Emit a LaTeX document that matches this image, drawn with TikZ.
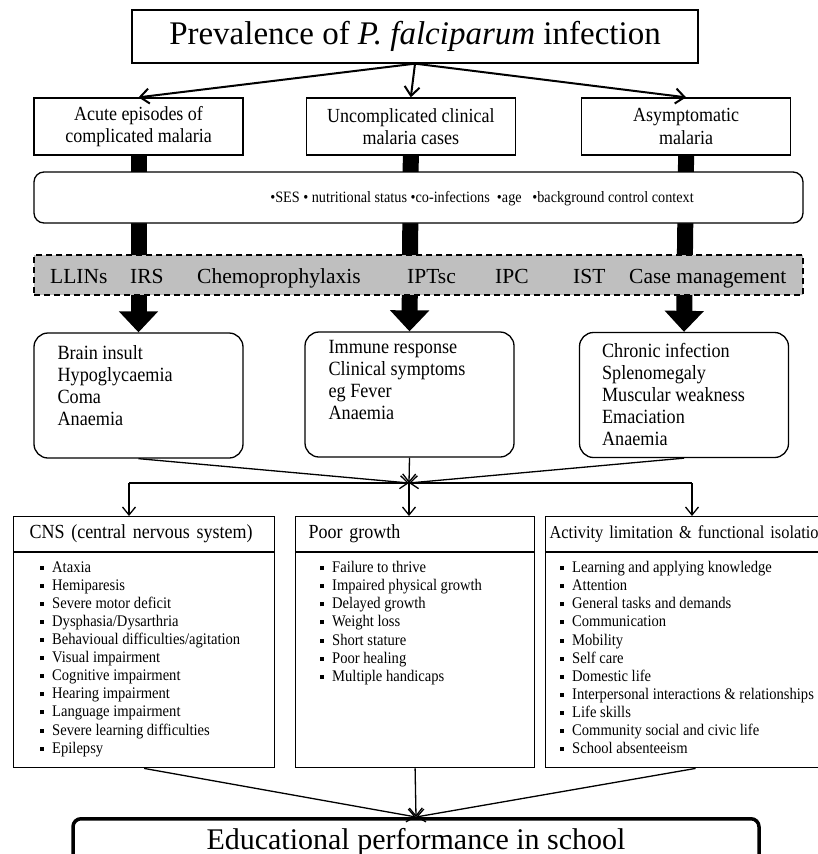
\documentclass[tikz,border=0pt]{standalone}
\usepackage{fontspec}
\setmainfont{Liberation Serif}
\newfontfamily\narrowserif[FakeStretch=0.9]{Liberation Serif}
\usetikzlibrary{positioning,arrows.meta}
\definecolor{BandGray}{RGB}{191,191,191}
\newcommand{\itm}{\makebox[12pt][l]{\rule[2.5pt]{4pt}{4pt}}}
\tikzset{
  topflow/.style={-{Straight Barb[length=9pt,width=15pt]},line width=2pt},
  thinflow/.style={-{Straight Barb[length=8pt,width=13pt]},line width=1.3pt},
  fatflow/.style={-{Triangle[length=21pt,width=38pt]},line width=16pt},
  titlebox/.style={draw,line width=1.3pt,minimum width=566pt,minimum height=53pt,
    font=\fontsize{33}{36}\selectfont},
  box/.style={draw,line width=1.3pt,minimum width=209pt,minimum height=57pt,
    align=center,font=\narrowserif\fontsize{20}{22.5}\selectfont},
  roundbox/.style={draw,line width=1.3pt,rounded corners=14pt,
    minimum width=209pt,minimum height=125pt},
  ctxbox/.style={draw,fill=white,line width=1.3pt,rounded corners=10pt,
    minimum width=769pt,minimum height=51pt},
  ctxtext/.style={inner sep=0pt,font=\narrowserif\fontsize{15.8}{17}\selectfont},
  bandbox/.style={draw,fill=BandGray,line width=1.3pt,dash pattern=on 6pt off 4pt,
    minimum width=769pt,minimum height=40pt},
  bandword/.style={anchor=base west,inner sep=0pt,font=\fontsize{21.5}{24}\selectfont},
  listtext/.style={anchor=north west,inner sep=0pt,align=left,
    font=\narrowserif\fontsize{20.2}{22}\selectfont},
  headbox/.style={draw,line width=1.2pt,minimum height=35pt,anchor=north west,
    align=left,font=\narrowserif\fontsize{20}{21}\selectfont},
  bodybox/.style={draw,line width=1.2pt,minimum height=215pt},
  itemlist/.style={anchor=north west,inner sep=0pt,align=left,
    font=\narrowserif\fontsize{16.2}{18.1}\selectfont},
  edubox/.style={draw,line width=3.5pt,rounded corners=8pt,minimum width=686pt,
    anchor=north,inner ysep=10pt,text depth=30pt,font=\fontsize{30}{32}\selectfont}
}
\begin{document}
\begin{tikzpicture}[x=1pt,y=-1pt]
\useasboundingbox (0,0) rectangle (818,854);
\clip (0,0) rectangle (818,854);

% prevalence and the three kinds of infection
\node[titlebox] (prev) at (415,36.5) {Prevalence of \textit{P. falciparum} infection};
\node[box] (acute) at (138.5,126.5) {Acute episodes of\\complicated malaria};
\node[box,right=62pt of acute] (uncomp) {Uncomplicated clinical\\malaria cases};
\node[box,right=65pt of uncomp] (asympt) {Asymptomatic\\malaria};
\draw[topflow] (prev.south) -- (acute.north);
\draw[topflow] (prev.south) -- (uncomp.north);
\draw[topflow] (prev.south) -- (asympt.north);

% consequences
\node[roundbox] (brain) at (138.5,395.5) {};
\node[roundbox] (immune) at (409.5,394.5) {};
\node[roundbox] (chronic) at (684,395) {};
\draw[fatflow] (acute.south) -- (brain.north);
\draw[fatflow] (uncomp.south) -- (immune.north);
\draw[fatflow] (asympt.south) -- (chronic.north);
\node[listtext,below right=13pt and 24pt of brain.north west] (brainList)
  {Brain insult\\Hypoglycaemia\\Coma\\Anaemia};
\node[listtext,below right=9pt and 24pt of immune.north west] (immuneList)
  {Immune response\\Clinical symptoms\\eg Fever\\Anaemia};
\node[listtext,below right=11pt and 23pt of chronic.north west] (chronicList)
  {Chronic infection\\Splenomegaly\\Muscular weakness\\Emaciation\\Anaemia};

% modifiers and interventions
\node[ctxbox] (context) at (418.5,197.5) {};
\node[ctxtext] (ctxText) at (482,199)
  {•SES • nutritional status •co-infections\ \ •age\ \ \ •background control context};
\node[bandbox] (band) at (418.5,275) {};
\node[bandword] (llins) at (50,283) {LLINs};
\node[bandword] (irs) at (130,283) {IRS};
\node[bandword] (chemo) at (197,283) {Chemoprophylaxis};
\node[bandword] (iptsc) at (407,283) {IPTsc};
\node[bandword] (ipc) at (495,283) {IPC};
\node[bandword] (ist) at (573,283) {IST};
\node[bandword] (casemgt) at (629,283) {Case management};

% sequelae
\node[headbox,text width=229pt,inner xsep=16pt] (cnsHead) at (13,516)
  {CNS (central nervous system)};
\node[bodybox,minimum width=261pt,below=0pt of cnsHead] (cnsBody) {};
\node[headbox,text width=213pt,inner xsep=13pt] (poorHead) at (295,516) {Poor growth};
\node[bodybox,minimum width=239pt,below=0pt of poorHead] (poorBody) {};
\node[headbox,text width=292pt,inner xsep=4pt,font=\narrowserif\fontsize{18.2}{20}\selectfont]
  (actHead) at (545,516) {Activity limitation \& functional isolation};
\node[bodybox,minimum width=300pt,below=0pt of actHead] (actBody) {};

\node[itemlist,below right=9pt and 27pt of cnsBody.north west] (cnsList)
  {\itm Ataxia\\\itm Hemiparesis\\\itm Severe motor deficit\\\itm Dysphasia/Dysarthria\\
   \itm Behavioual difficulties/agitation\\\itm Visual impairment\\\itm Cognitive impairment\\
   \itm Hearing impairment\\\itm Language impairment\\\itm Severe learning difficulties\\
   \itm Epilepsy};
\node[itemlist,below right=9pt and 25pt of poorBody.north west] (poorList)
  {\itm Failure to thrive\\\itm Impaired physical growth\\\itm Delayed growth\\
   \itm Weight loss\\\itm Short stature\\\itm Poor healing\\\itm Multiple handicaps};
\node[itemlist,below right=9pt and 15pt of actBody.north west] (actList)
  {\itm Learning and applying knowledge\\\itm Attention\\\itm General tasks and demands\\
   \itm Communication\\\itm Mobility\\\itm Self care\\\itm Domestic life\\
   \itm Interpersonal interactions \& relationships\\\itm Life skills\\
   \itm Community social and civic life\\\itm School absenteeism};

\coordinate (split) at (409,483);
\coordinate (splitL) at (129,483);
\coordinate (splitR) at (692,483);
\draw[thinflow] (brain.south) -- (split);
\draw[thinflow] (immune.south) -- (split);
\draw[thinflow] (chronic.south) -- (split);
\draw[line width=1.3pt] (splitL) -- (splitR);
\draw[thinflow] (splitL) -- (splitL |- cnsHead.north);
\draw[thinflow] (split) -- (split |- poorHead.north);
\draw[thinflow] (splitR) -- (splitR |- actHead.north);

% outcome
\node[edubox] (edu) at (416,817) {Educational performance in school};
\draw[thinflow] (cnsBody.south) -- (edu.north);
\draw[thinflow] (poorBody.south) -- (edu.north);
\draw[thinflow] (actBody.south) -- (edu.north);
\end{tikzpicture}
\end{document}
